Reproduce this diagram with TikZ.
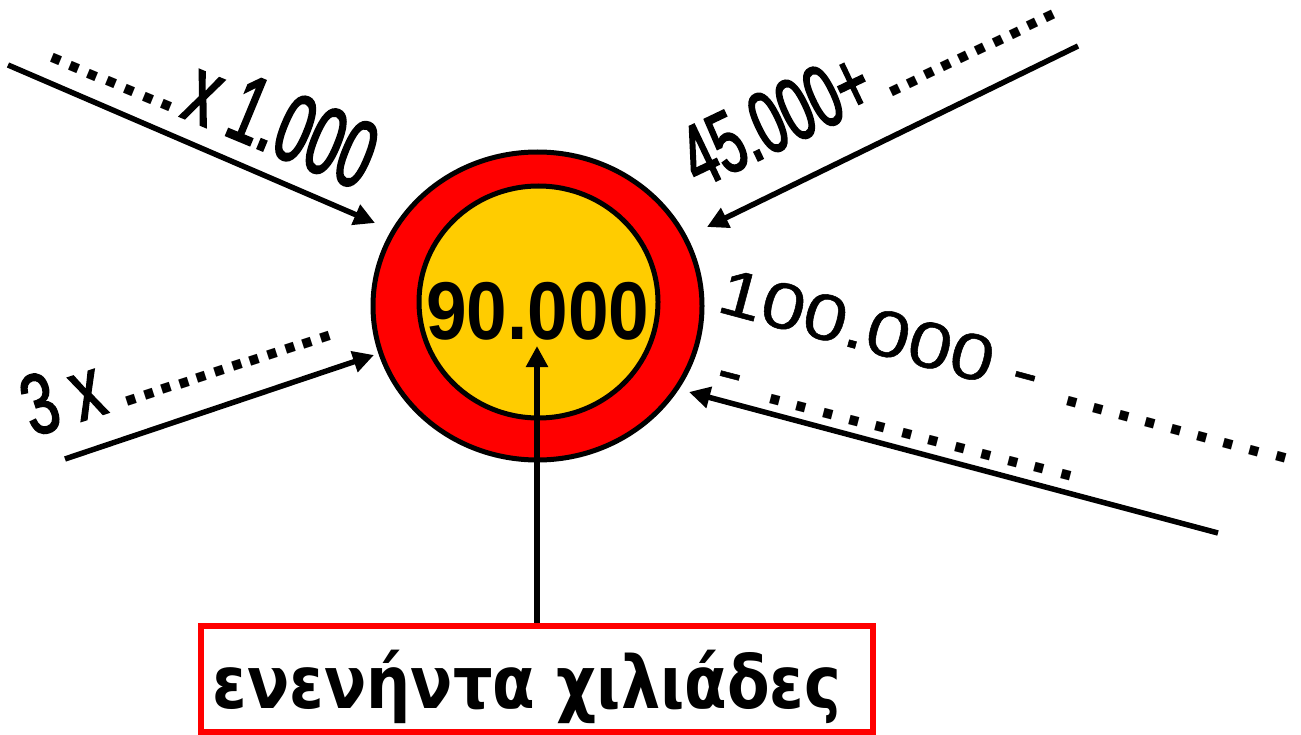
\documentclass[tikz,border=0pt]{standalone}
\usepackage{fontspec}
\setmainfont{Liberation Sans}
\newfontfamily\condg[FakeStretch=0.62,FakeBold=2]{Liberation Sans}
\newfontfamily\condh[FakeStretch=0.7,FakeBold=2]{Liberation Sans}
\newfontfamily\widef[FakeStretch=1.2,FakeBold=0.8]{Liberation Sans}
\newfontfamily\numf[FakeStretch=0.89]{Liberation Sans Bold}
\newfontfamily\dotf{Liberation Sans Bold}
\newfontfamily\grf[FakeStretch=0.85]{DejaVu Sans Bold}
\usetikzlibrary{arrows.meta,shapes.geometric}
\definecolor{gold}{RGB}{255,204,0}
\definecolor{pured}{RGB}{255,0,0}
\newlength\dadv
\newcommand\dd{\makebox[\dadv][l]{.}}
\newcommand\smalldots{\dotf\fontsize{64}{64}\selectfont}
\begin{document}
\begin{tikzpicture}[x=1pt,y=-1pt,
  arr/.style={line width=5.5pt,-{Triangle[length=21pt,width=21pt]}},
  lab/.style={inner sep=0pt,outer sep=0pt,text=black},
  widelab/.style={lab,font=\widef\fontsize{65}{65}\selectfont}]
\useasboundingbox (0,0) rectangle (1301,735);
% target
\node[ellipse,draw,line width=5pt,fill=pured,minimum width=329pt,minimum height=308pt,inner sep=0pt] (outer) at (537.5,306) {};
\node[ellipse,draw,line width=5pt,fill=gold,minimum width=239pt,minimum height=232pt,inner sep=0pt] (inner) at (538.5,302) {};
\node[lab,font=\numf\fontsize{82}{82}\selectfont] (num) at (538,311) {90.000};
% box
\node[draw=pured,line width=6pt,minimum width=672pt,minimum height=106.5pt,inner sep=0pt] (box) at (537,678.75) {};
\node[lab,anchor=base,font=\grf\fontsize{73}{73}\selectfont] (gr) at (527,708) {ενενήντα χιλιάδες};
% coordinates
\coordinate (s1) at (8,65);    \coordinate (t1) at (375,223);
\coordinate (s2) at (1078,46); \coordinate (t2) at (707,227);
\coordinate (s3) at (65,459);  \coordinate (t3) at (374,355);
\coordinate (s4) at (1218,533);\coordinate (t4) at (689,392);
\coordinate (t5) at (537,346);
\draw[arr] (s1) -- (t1);
\draw[arr] (s2) -- (t2);
\draw[arr] (s3) -- (t3);
\draw[arr] (s4) -- (t4);
\draw[arr] (box.north) -- (t5);
% labels
\node[lab,font=\condg\fontsize{96}{96}\selectfont,rotate=-22.5,anchor=base west] (l1) at (46,61)
  {{\smalldots\setlength\dadv{20pt}\dd\dd\dd\dd\dd\dd\dd}\hspace{4pt}x 1.000};
\node[lab,font=\condg\fontsize{88}{88}\selectfont,rotate=25.5,anchor=base west] (l2) at (699,189)
  {45.000+\hspace{12pt}{\smalldots\setlength\dadv{19pt}\dd\dd\dd\dd\dd\dd\dd\dd\dd\dd}};
\node[lab,font=\condh\fontsize{86}{86}\selectfont,rotate=18,anchor=base west] (l3) at (33,437)
  {3 x\hspace{16pt}{\smalldots\setlength\dadv{18.5pt}\dd\dd\dd\dd\dd\dd\dd\dd\dd\dd\dd\dd}};
\node[widelab,rotate=-15,anchor=base west] (l4a) at (715,311)
  {100.000 -\hspace{30pt}{\dotf\fontsize{64}{64}\selectfont\setlength\dadv{27pt}\dd\dd\dd\dd\dd\dd\dd\dd\dd}};
\node[widelab,rotate=-14.5,anchor=base west] (l4b) at (713,389)
  {-\hspace{28pt}{\dotf\fontsize{64}{64}\selectfont\setlength\dadv{27.3pt}\dd\dd\dd\dd\dd\dd\dd\dd\dd\dd\dd\dd}};
\end{tikzpicture}
\end{document}
